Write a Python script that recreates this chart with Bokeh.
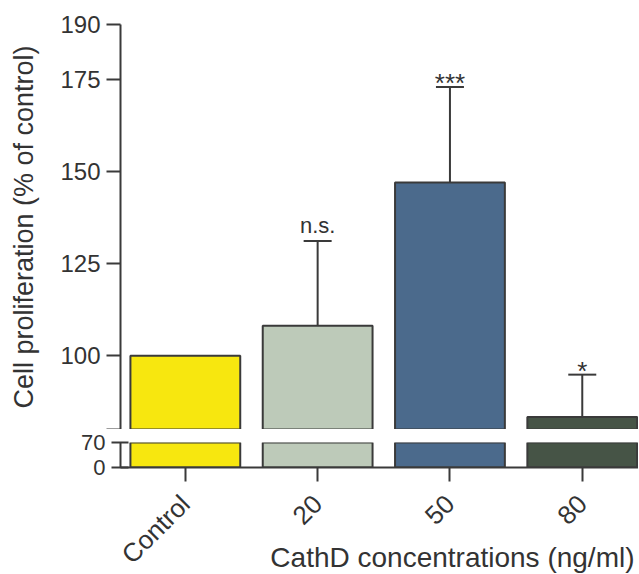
from bokeh.plotting import figure
from bokeh.layouts import column
from bokeh.models import ColumnDataSource, FixedTicker, Whisker, TeeHead, Title
from bokeh.embed import file_html
from bokeh.resources import INLINE
from bokeh.core.properties import value
from math import pi

# ---------------- data ----------------
categories = ["Control", "20", "50", "80"]
means = [100.0, 108.2, 147.1, 83.4]
errors = [0.0, 23.0, 25.9, 11.5]
sig_labels = ["", "n.s.", "***", "*"]
upper_ticks = [100, 125, 150, 175, 190]
lower_ticks = [0, 70]
y_title = "Cell proliferation (% of control)"
x_title = "CathD concentrations (ng/ml)"

# ---------------- style ----------------
bar_colors = ["#f7e70f", "#bdcab9", "#4b6a8c", "#465446"]
FONT = "Liberation Sans"
INK = "#3a3a3a"
TXT = "#333333"
X_START, X_END = -0.49, 3.425
BAR_W = 0.83
UPPER_RANGE = (80, 190)
LOWER_RANGE = (0, 70)

xs = list(range(len(categories)))
bar_src = ColumnDataSource(dict(x=xs, top=means, color=bar_colors))

err_idx = [i for i, e in enumerate(errors) if e > 0]
err_src = ColumnDataSource(dict(
    x=[xs[i] for i in err_idx],
    lower=[means[i] for i in err_idx],
    upper=[means[i] + errors[i] for i in err_idx],
))


def sig_source(pred):
    idx = [i for i, s in enumerate(sig_labels) if s and pred(s)]
    return ColumnDataSource(dict(
        x=[xs[i] for i in idx],
        y=[means[i] + errors[i] for i in idx],
        text=[sig_labels[i] for i in idx],
    ))


star_src = sig_source(lambda s: "*" in s)
word_src = sig_source(lambda s: "*" not in s)


def base_style(p):
    p.outline_line_color = None
    p.xgrid.visible = False
    p.ygrid.visible = False
    p.background_fill_color = "white"
    p.border_fill_color = "white"
    p.vbar(x="x", top="top", bottom=0, width=BAR_W, fill_color="color",
           line_color=INK, line_width=2, source=bar_src)
    ax = p.yaxis[0]
    ax.axis_line_color = INK
    ax.axis_line_width = 2
    ax.major_tick_line_color = INK
    ax.major_tick_line_width = 2
    ax.minor_tick_line_color = None
    ax.major_label_text_font = FONT
    ax.major_label_text_font_size = "24px"
    ax.major_label_text_color = TXT
    ax.major_label_standoff = 6


# ---------------- upper panel (80-190) ----------------
p1 = figure(frame_width=518, frame_height=405,
            x_range=(X_START, X_END), y_range=UPPER_RANGE,
            output_backend="svg", toolbar_location=None,
            x_axis_location=None,
            min_border_left=120, min_border_right=0,
            min_border_top=24, min_border_bottom=0)
base_style(p1)
a1 = p1.yaxis[0]
a1.ticker = FixedTicker(ticks=[UPPER_RANGE[0]] + upper_ticks)
a1.major_label_overrides = {UPPER_RANGE[0]: ""}
a1.major_tick_in = 0
a1.major_tick_out = 14
a1.axis_label = y_title
a1.axis_label_text_font = FONT
a1.axis_label_text_font_size = "27px"
a1.axis_label_text_font_style = "normal"
a1.axis_label_text_color = TXT
a1.axis_label_standoff = 18

p1.add_layout(Whisker(base="x", lower="lower", upper="upper", source=err_src,
                      line_color=INK, line_width=2, lower_head=None,
                      upper_head=TeeHead(size=28, line_color=INK, line_width=2)))
p1.text(x="x", y="y", text="text", source=word_src, text_align="center",
        text_baseline="alphabetic", y_offset=-15, text_font=value(FONT),
        text_font_size="22px", text_color=TXT)
p1.text(x="x", y="y", text="text", source=star_src, text_align="center",
        text_baseline="alphabetic", y_offset=-4, text_font=value(FONT),
        text_font_size="26px", text_color=TXT)

# ---------------- lower panel (0-70) ----------------
p2 = figure(frame_width=518, frame_height=25,
            x_range=p1.x_range, y_range=LOWER_RANGE,
            output_backend="svg", toolbar_location=None,
            min_border_left=120, min_border_right=0,
            min_border_top=13, min_border_bottom=107)
base_style(p2)
a2 = p2.yaxis[0]
a2.ticker = FixedTicker(ticks=lower_ticks)
a2.major_tick_in = 8
a2.major_tick_out = 9
a2.major_label_text_font_size = "22px"

xa = p2.xaxis[0]
xa.ticker = FixedTicker(ticks=xs)
xa.major_label_overrides = {i: c for i, c in zip(xs, categories)}
xa.major_label_orientation = pi / 4
xa.axis_line_color = INK
xa.axis_line_width = 2
xa.major_tick_line_color = INK
xa.major_tick_line_width = 2
xa.major_tick_in = 0
xa.major_tick_out = 14
xa.minor_tick_line_color = None
xa.major_label_text_font = FONT
xa.major_label_text_font_size = "26px"
xa.major_label_text_color = TXT
xa.major_label_standoff = 18

p2.add_layout(Title(text=x_title, align="right", vertical_align="top",
                    standoff=-82, offset=4, text_font=FONT, text_font_size="28px",
                    text_font_style="normal", text_color=TXT), "below")

layout = column(p1, p2, spacing=0)
open("out.html", "w").write(file_html(layout, INLINE))
